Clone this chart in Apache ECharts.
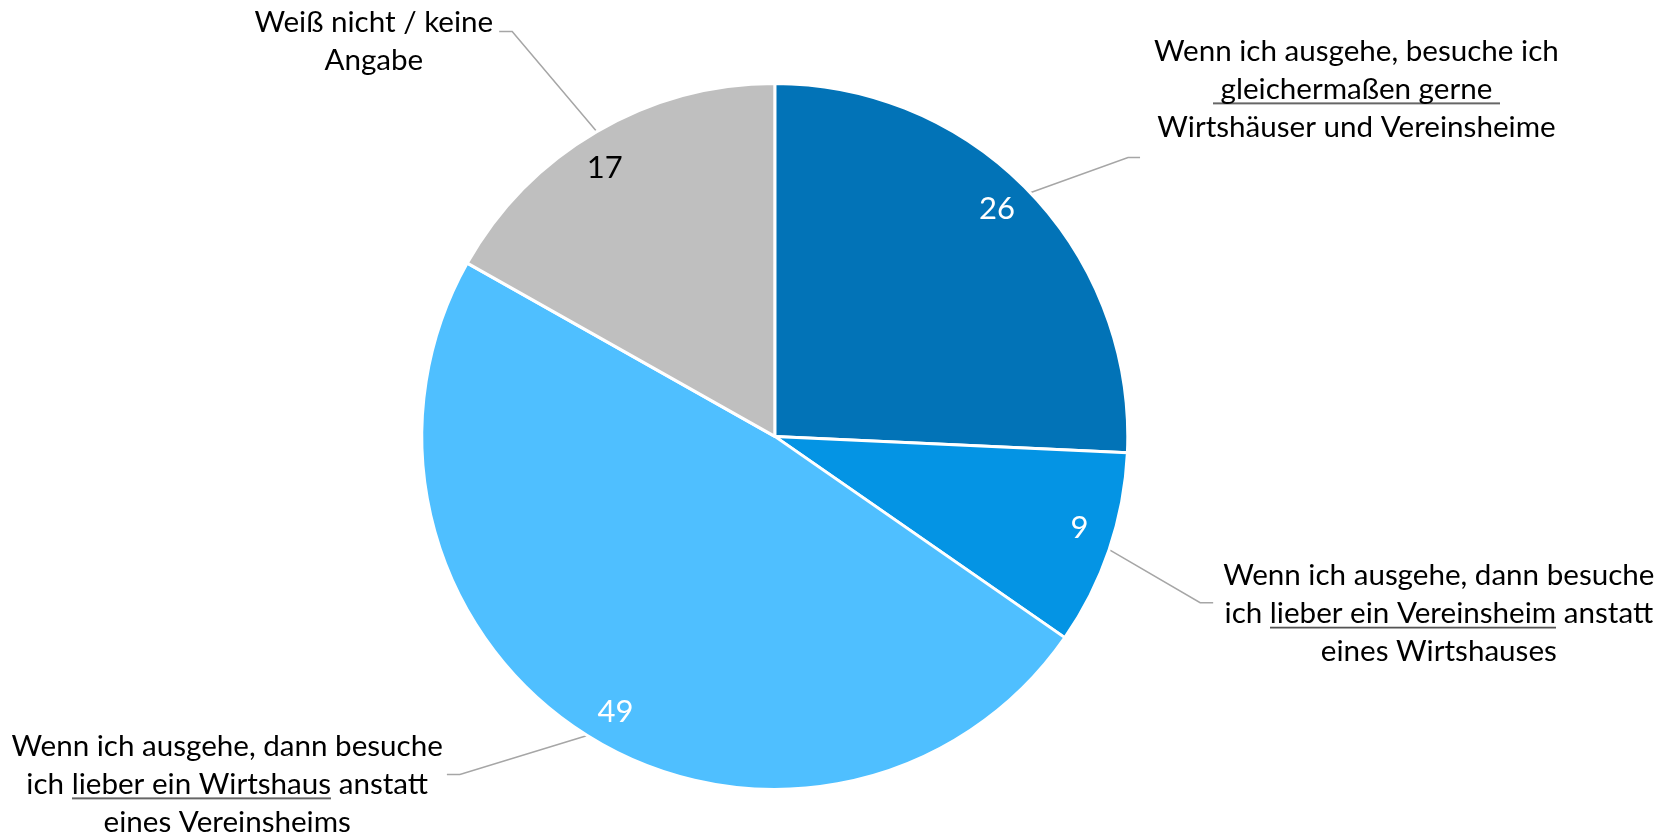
<!DOCTYPE html>
<html><head><meta charset="utf-8">
<script src="https://cdn.jsdelivr.net/npm/echarts@6/dist/echarts.min.js"></script>
<style>html,body{margin:0;padding:0;background:#fff}#c{width:1668px;height:836px}</style>
</head><body><div id="c"></div>
<script>
// ---- data ----
const categories = [
  'Wenn ich ausgehe, besuche ich gleichermaßen gerne Wirtshäuser und Vereinsheime',
  'Wenn ich ausgehe, dann besuche ich lieber ein Vereinsheim anstatt eines Wirtshauses',
  'Wenn ich ausgehe, dann besuche ich lieber ein Wirtshaus anstatt eines Vereinsheims',
  'Weiß nicht / keine Angabe'
];
const values = [26, 9, 49, 17];
// label text, split in lines; {u|...} = underlined part
const labelTexts = [
  '{t|Wenn ich ausgehe, besuche ich}\n{u| gleichermaßen gerne }\n{t|Wirtshäuser und Vereinsheime}',
  '{t|Wenn ich ausgehe, dann besuche}\n{t|ich }{u|lieber ein Vereinsheim}{t| anstatt}\n{t|eines Wirtshauses}',
  '{t|Wenn ich ausgehe, dann besuche}\n{t|ich }{u|lieber ein Wirtshaus}{t| anstatt}\n{t|eines Vereinsheims}',
  '{t|Weiß nicht / keine}\n{t|Angabe}'
];

// ---- styles ----
const colors = ['#0273B7', '#0494E4', '#4FBFFF', '#BFBFBF'];
const valueColors = ['#ffffff', '#ffffff', '#ffffff', '#000000'];
const lineCfg = [
  {length: 51, length2: 73, dist: 14, pad: [0, 0, 136, 0], dy: 0, tail: 12},
  {length: 75, length2: 33, dist: 10, pad: [22, 0, 0, 0], dy: 29, tail: 13},
  {length: 46, length2: 116, dist: 4, pad: [20, 0, 0, 0], dy: 0, tail: 13},
  {length: 116, length2: 39, dist: 6, pad: [20, 0, 0, 0], dy: 0, tail: 13}
];
const FONT = 'Lato';
const FS = 29.6, LH = 38;

const ul = document.createElement('canvas');
ul.width = 4; ul.height = LH;
(function(){
  const g = ul.getContext('2d');
  g.fillStyle = 'rgba(64,64,64,1)';
  g.fillRect(0, 32, 4, 1);
  g.fillStyle = 'rgba(64,64,64,0.6)';
  g.fillRect(0, 33, 4, 1);
})();

const center = ['46.45%', '52.2%'];
const R = 353;

const chart = echarts.init(document.getElementById('c'), null, {renderer: 'canvas'});
chart.setOption({
  animation: false,
  backgroundColor: '#ffffff',
  series: [
    {
      type: 'pie',
      center: center,
      radius: [0, R],
      startAngle: 90,
      clockwise: true,
      avoidLabelOverlap: false,
      silent: true,
      itemStyle: {borderColor: '#ffffff', borderWidth: 3},
      label: {
        show: true, position: 'outside', color: '#000',
        fontFamily: FONT, fontSize: FS, lineHeight: LH,
        rich: {
          t: {fontFamily: FONT, fontSize: FS, lineHeight: LH, align: 'center', color: '#000'},
          u: {fontFamily: FONT, fontSize: FS, lineHeight: LH, height: LH, align: 'center', color: '#000',
              backgroundColor: {image: ul}}
        }
      },
      labelLine: {show: true, smooth: false, lineStyle: {color: '#A6A6A6', width: 1.5}},
      labelLayout: function (params) {
        const pts = params.labelLinePoints;
        if (!pts) return {};
        const c = lineCfg[params.dataIndex];
        const p1 = pts[0];
        const p3 = [pts[2][0], pts[2][1] + c.dy];
        const s = p3[0] > p1[0] ? 1 : -1;
        return {dy: c.dy, labelLinePoints: [p1, [p3[0] - s * c.tail, p3[1]], p3]};
      },
      data: values.map((v, i) => ({
        name: categories[i], value: v,
        itemStyle: {color: colors[i]},
        label: {formatter: labelTexts[i], distanceToLabelLine: lineCfg[i].dist, padding: lineCfg[i].pad},
        labelLine: {length: lineCfg[i].length, length2: lineCfg[i].length2}
      }))
    },
    {
      type: 'pie',
      center: center,
      radius: [R * 0.785, R],
      startAngle: 92,
      clockwise: true,
      silent: true,
      avoidLabelOverlap: false,
      itemStyle: {color: 'rgba(0,0,0,0)'},
      label: {show: true, position: 'inside', fontFamily: FONT, fontSize: 31, formatter: '{c}'},
      labelLine: {show: false},
      data: values.map((v, i) => ({
        name: categories[i], value: v,
        label: {color: valueColors[i]}
      }))
    }
  ]
});
</script>
</body></html>
